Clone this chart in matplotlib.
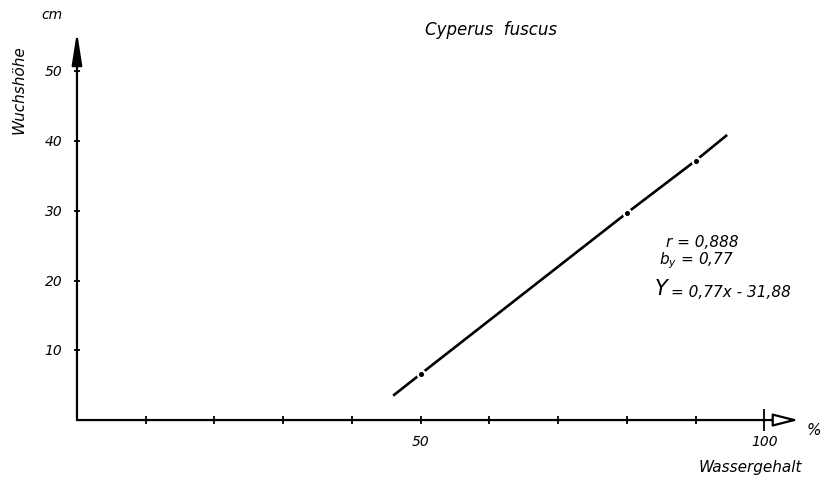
import matplotlib
matplotlib.use("Agg")
import matplotlib.pyplot as plt

# --- values ---
x_ticks = [10, 20, 30, 40, 50, 60, 70, 80, 90, 100]
x_labels = {50: "50", 100: "100"}
y_ticks = [10, 20, 30, 40, 50]

# regression line: end points and the marked points on it
line_x = [46, 50, 80, 90, 94.6]
line_y = [3.5, 6.6, 29.7, 37.2, 40.9]
mark_x = [50, 80, 90]
mark_y = [6.6, 29.7, 37.2]

x_axis_end = 105
y_axis_end = 55.7

fnt = dict(family="DejaVu Sans", style="italic", color="black")

fig = plt.figure(figsize=(8.22, 4.81), dpi=100)
ax = fig.add_axes([0, 0, 1, 1])
ax.set_xlim(-11.2, 108.4)
ax.set_ylim(-8.6, 60.4)
ax.axis("off")

# --- axes with arrows ---
ax.annotate("", xy=(0, y_axis_end), xytext=(0, 0),
            arrowprops=dict(arrowstyle="-|>,head_length=1.4,head_width=0.22",
                            lw=1.6, color="black", shrinkA=0, shrinkB=0,
                            mutation_scale=14))
ax.annotate("", xy=(x_axis_end, 0), xytext=(0, 0),
            arrowprops=dict(arrowstyle="-|>,head_length=1.1,head_width=0.28",
                            lw=1.6, ec="black", fc="white", shrinkA=0, shrinkB=0,
                            mutation_scale=14))

# ticks
ax.plot(x_ticks[:-1], [0] * (len(x_ticks) - 1), ls="none", marker="|",
        ms=6, mew=1.3, color="black")
ax.plot([x_ticks[-1]], [0], ls="none", marker="|", ms=16, mew=1.3, color="black")
ax.plot([0] * len(y_ticks), y_ticks, ls="none", marker="_", ms=5, mew=1.3,
        color="black")

for v, s in x_labels.items():
    ax.text(v, -3.0, s, ha="center", va="center", fontsize=10, **fnt)
for v in y_ticks:
    ax.text(-2.1, v, str(v), ha="right", va="center", fontsize=10, **fnt)

# --- regression line with dot marks ---
ax.plot(line_x, line_y, color="black", lw=1.9, solid_capstyle="butt")
ax.plot(mark_x, mark_y, ls="none", marker="o", ms=7, mfc="white", mec="none")
ax.plot(mark_x, mark_y, ls="none", marker="o", ms=2.6, color="black")

# --- texts ---
ax.text(-3.6, 58.2, "cm", ha="center", va="center", fontsize=10, **fnt)
ax.text(-8.4, 47.5, "Wuchshöhe", ha="center", va="center", rotation=90,
        fontsize=11, **fnt)
ax.text(60.3, 56.1, "Cyperus  fuscus", ha="center", va="center", fontsize=12, **fnt)
ax.text(107.2, -1.3, "%", ha="center", va="center", fontsize=11, **fnt)
ax.text(98.0, -6.6, "Wassergehalt", ha="center", va="center", fontsize=11, **fnt)

ax.text(96.3, 25.6, "r = 0,888", ha="right", va="center", fontsize=11, **fnt)
ax.text(84.7, 23.0, "b$_y$ = 0,77", ha="left", va="center", fontsize=11, **fnt)
ax.text(84.0, 18.9, "Y", ha="left", va="center", fontsize=15, **fnt)
ax.text(86.4, 18.5, "= 0,77x - 31,88", ha="left", va="center", fontsize=11, **fnt)

fig.savefig("out.png", dpi=100)
